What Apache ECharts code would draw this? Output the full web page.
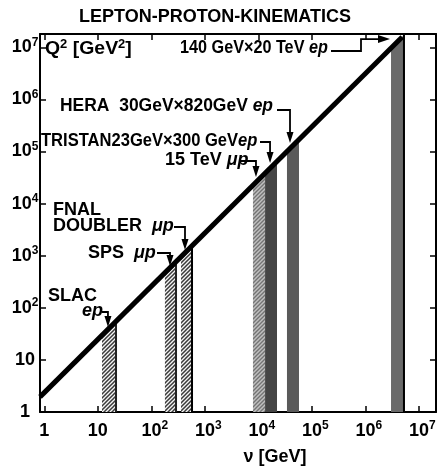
<!DOCTYPE html>
<html><head><meta charset="utf-8">
<script src="https://cdn.jsdelivr.net/npm/echarts@6/dist/echarts.min.js"></script>
<style>html,body{margin:0;padding:0;background:#fff}#c{width:439px;height:468px}</style>
</head><body><div id="c"></div>
<script>
// ---- data ----
const decades = [0, 1, 2, 3, 4, 5, 6, 7];
const xTickLabels = ['1', '10', '10^2', '10^3', '10^4', '10^5', '10^6', '10^7'];
const yTickLabels = ['1', '10', '10^2', '10^3', '10^4', '10^5', '10^6', '10^7'];

const X_MIN = 0.832, X_MAX = 2.1e7;   // nu [GeV]
const Y_MIN = 1, Y_MAX = 1.8e7;       // Q^2 [GeV^2]

const bandNames    = ['SLAC', 'SPS', 'FNAL', '15TeV', 'TRISTAN', 'HERA', 'EP140x20'];
const bandNuLow    = [12.0, 180, 360, 7960, 13400, 34400, 3.03e6];
const bandNuHigh   = [22.9, 303, 603, 13400, 22400, 57700, 5.52e6];
const bandQ2TopLow = [29.7, 472, 953, 22500, 38300, 100400, 9.7e6];
const bandQ2TopHigh= [57.3, 798, 1620, 38300, 64900, 170600, 1.8e7];

const limitNu = [0.832, 4.9e6];
const limitQ2 = [1.95, 1.58e7];

const arrowTipNu = [15.5, 224, 427, 9060, 16600, 39200, 2.9e6];
const arrowTipQ2 = [42.8, 634, 1286, 32400, 60100, 145600, 1.44e7];

// ---- styles ----
const FONT = '"Liberation Sans", Arial, sans-serif';
function hatch(bg, fg, lw) {
  const c = document.createElement('canvas'); c.width = 4; c.height = 4;
  const g = c.getContext('2d');
  g.fillStyle = bg; g.fillRect(0, 0, 4, 4);
  g.strokeStyle = fg; g.lineWidth = lw;
  g.beginPath();
  g.moveTo(-1, 5); g.lineTo(5, -1);
  g.moveTo(-1, 1); g.lineTo(1, -1);
  g.moveTo(3, 5); g.lineTo(5, 3);
  g.stroke();
  return { image: c, repeat: 'repeat' };
}
const bandStyle = {
  SLAC:    { fill: hatch('#f4f4f4', '#3a3a3a', 1.5), edge: '#222' },
  SPS:     { fill: hatch('#f4f4f4', '#3a3a3a', 1.5), edge: '#222' },
  FNAL:    { fill: hatch('#f4f4f4', '#3a3a3a', 1.5), edge: '#000' },
  '15TeV': { fill: hatch('#c0c0c0', '#747474', 1.4) },
  TRISTAN: { fill: '#454545' },
  HERA:    { fill: '#5a5a5a' },
  EP140x20:{ fill: '#6a6a6a', edge: '#000' }
};

function tickFmt(labels, pad) {
  return function (v) {
    const e = Math.log10(v), r = Math.round(e);
    if (Math.abs(e - r) > 1e-6) return '';
    const k = decades.indexOf(r);
    if (k < 0) return '';
    const s = labels[k];
    if (s.indexOf('^') < 0) return '{b|' + s + '}';
    const p = s.split('^');
    return (pad ? '{p|}' : '') + '{b|' + p[0] + '}{s|' + p[1] + '}';
  };
}
const tickRich = {
  b: { fontSize: 18, fontWeight: 'bold', fontFamily: FONT, color: '#000', lineHeight: 22 },
  s: { fontSize: 12, fontWeight: 'bold', fontFamily: FONT, color: '#000', lineHeight: 10, verticalAlign: 'top' },
  p: { width: 7 }
};

const axisLine = { show: true, onZero: false, lineStyle: { color: '#000', width: 2 } };
const axisTick = { show: true, inside: true, length: 6, lineStyle: { color: '#000', width: 1.5 } };

const chart = echarts.init(document.getElementById('c'), null, { renderer: 'canvas' });

chart.setOption({
  animation: false,
  backgroundColor: '#fff',
  grid: { left: 40, right: 3, top: 34, bottom: 56 },
  xAxis: [
    { type: 'log', logBase: 10, min: X_MIN, max: X_MAX, position: 'bottom',
      axisLine, axisTick, splitLine: { show: false }, minorTick: { show: false },
      axisLabel: { margin: 8, formatter: tickFmt(xTickLabels, true), rich: tickRich } },
    { type: 'log', logBase: 10, min: X_MIN, max: X_MAX, position: 'top',
      axisLine, axisTick, splitLine: { show: false }, axisLabel: { show: false } }
  ],
  yAxis: [
    { type: 'log', logBase: 10, min: Y_MIN, max: Y_MAX, position: 'left',
      axisLine, axisTick, splitLine: { show: false }, minorTick: { show: false },
      axisLabel: { margin: 15, align: 'center', formatter: tickFmt(yTickLabels, false), rich: tickRich } },
    { type: 'log', logBase: 10, min: Y_MIN, max: Y_MAX, position: 'right',
      axisLine, axisTick, splitLine: { show: false }, axisLabel: { show: false } }
  ],
  series: [
    {
      type: 'custom', name: 'bands', xAxisIndex: 0, yAxisIndex: 0,
      encode: { x: [0, 1], y: [2, 3] },
      data: bandNames.map((n, i) => [bandNuLow[i], bandNuHigh[i], bandQ2TopLow[i], bandQ2TopHigh[i], i]),
      renderItem: function (params, api) {
        const i = api.value(4);
        const st = bandStyle[bandNames[i]];
        const b0 = api.coord([api.value(0), Y_MIN]);
        const b1 = api.coord([api.value(1), Y_MIN]);
        const t1 = api.coord([api.value(1), api.value(3)]);
        const t0 = api.coord([api.value(0), api.value(2)]);
        const children = [{ type: 'polygon', shape: { points: [b0, b1, t1, t0] }, style: { fill: st.fill } }];
        if (st.edge) children.push({ type: 'line', shape: { x1: b1[0] - 1, y1: b1[1], x2: t1[0] - 1, y2: t1[1] },
          style: { stroke: st.edge, lineWidth: 2 } });
        return { type: 'group', children };
      },
      z: 2
    },
    {
      type: 'line', name: 'limit', xAxisIndex: 0, yAxisIndex: 0,
      data: limitNu.map((x, i) => [x, limitQ2[i]]),
      symbol: 'none', lineStyle: { color: '#000', width: 5, cap: 'butt' }, z: 5
    }
  ]
});

// ---- annotations (layout in pixels, arrow tips from data) ----
const R = {
  t: { fontSize: 18, fontWeight: 'bold', fontFamily: FONT, color: '#000', lineHeight: 20 },
  i: { fontSize: 18, fontWeight: 'bold', fontStyle: 'italic', fontFamily: FONT, color: '#000', lineHeight: 20 },
  s: { fontSize: 12, fontWeight: 'bold', fontFamily: FONT, color: '#000', lineHeight: 10, verticalAlign: 'top' }
};
const labels = [
  { text: '{t|LEPTON-PROTON-KINEMATICS}', x: 215, y: 17, align: 'center' },
  { text: '{t|Q}{s|2}{t| [GeV}{s|2}{t|]}', x: 45, y: 49, sx: 1.08 },
  { text: '{t|140 GeV×20 TeV }{i|ep}', x: 180, y: 48, sx: 0.9 },
  { text: '{t|HERA  30GeV×820GeV }{i|ep}', x: 60, y: 106, sx: 0.97 },
  { text: '{t|TRISTAN23GeV×300 GeV}{i|ep}', x: 41, y: 141, sx: 0.92 },
  { text: '{t|15 TeV }{i|μp}', x: 165, y: 160 },
  { text: '{t|FNAL}', x: 53, y: 210 },
  { text: '{t|DOUBLER  }{i|μp}', x: 53, y: 226 },
  { text: '{t|SPS  }{i|μp}', x: 88, y: 253 },
  { text: '{t|SLAC}', x: 48, y: 296 },
  { text: '{i|ep}', x: 82, y: 311 },
  { text: '{t|ν [GeV]}', x: 275, y: 457, align: 'center' }
];
// connector start (pixels) for each band's label
const connectorFrom = [[102, 312], [157, 253], [174, 227], [241, 161], [260, 142], [277, 110], [331, 51]];

const graphic = [];
labels.forEach(l => graphic.push({
  type: 'text', x: l.x, y: l.y, z: 10, scaleX: l.sx || 1,
  style: { text: l.text, rich: R, align: l.align || 'left', verticalAlign: 'middle' }
}));
bandNames.forEach((n, i) => {
  const tip = chart.convertToPixel({ xAxisIndex: 0, yAxisIndex: 0 }, [arrowTipNu[i], arrowTipQ2[i]]);
  const f = connectorFrom[i];
  if (n === 'EP140x20') {
    graphic.push({ type: 'polyline', z: 10, shape: { points: [f, [361, f[1]], [361, tip[1]], [tip[0] - 10, tip[1]]] },
      style: { stroke: '#000', lineWidth: 1.8, fill: null } });
    graphic.push({ type: 'polygon', z: 10, shape: { points: [[tip[0] - 12, tip[1] - 4], [tip[0] - 12, tip[1] + 4], [tip[0], tip[1]]] },
      style: { fill: '#000' } });
  } else {
    graphic.push({ type: 'polyline', z: 10, shape: { points: [f, [tip[0], f[1]], [tip[0], tip[1] - 9]] },
      style: { stroke: '#000', lineWidth: 1.8, fill: null } });
    graphic.push({ type: 'polygon', z: 10, shape: { points: [[tip[0] - 3.5, tip[1] - 11], [tip[0] + 3.5, tip[1] - 11], [tip[0], tip[1]]] },
      style: { fill: '#000' } });
  }
});
chart.setOption({ graphic });
</script>
</body></html>
